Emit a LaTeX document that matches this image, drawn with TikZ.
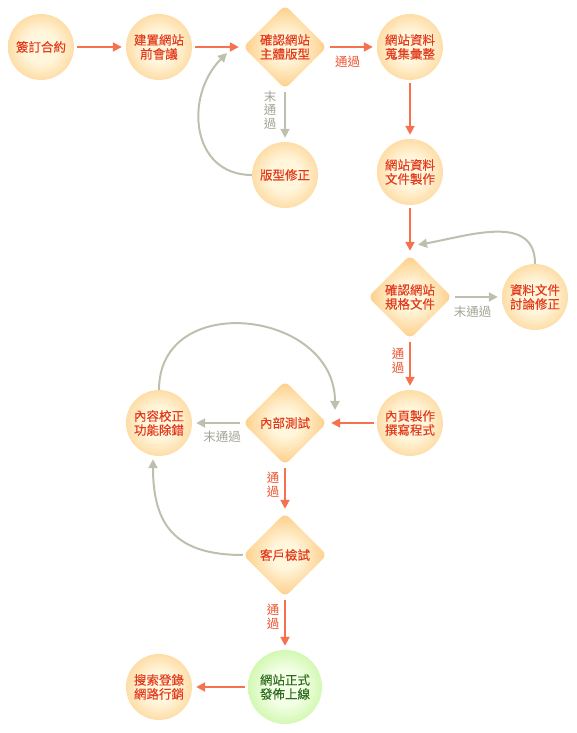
\documentclass[tikz,border=0pt]{standalone}
\usepackage{fontspec}
\newfontfamily\tcfont[BoldFont={Noto Sans CJK TC},BoldFeatures={FakeBold=0.2}]{Noto Sans CJK TC}
\usepackage{tikz}
\usetikzlibrary{positioning}
\usetikzlibrary{arrows.meta}
\usetikzlibrary{shapes.geometric}
\usetikzlibrary{calc}
\definecolor{ballRim}{HTML}{FDB95C}
\definecolor{ballCore}{HTML}{FFF6DC}
\definecolor{greenRim}{HTML}{A4EE68}
\definecolor{greenCore}{HTML}{F3FFE6}
\definecolor{stepText}{HTML}{E33A1C}
\definecolor{doneText}{HTML}{2E6B1F}
\definecolor{goLine}{HTML}{F5714F}
\definecolor{backLine}{HTML}{BEC0AE}
\definecolor{failText}{HTML}{A3A594}
\definecolor{passText}{HTML}{EA5530}
\pgfdeclareradialshading{ballOrange}{\pgfpoint{0bp}{0bp}}{color(0bp)=(ballCore); color(12bp)=(ballCore); color(44bp)=(ballRim); color(50bp)=(ballRim)}
\pgfdeclareradialshading{diaOrange}{\pgfpoint{0bp}{0bp}}{color(0bp)=(ballCore); color(8bp)=(ballCore); color(33bp)=(ballRim); color(50bp)=(ballRim)}
\pgfdeclareradialshading{ballGreen}{\pgfpoint{0bp}{0bp}}{color(0bp)=(greenCore); color(12bp)=(greenCore); color(44bp)=(greenRim); color(50bp)=(greenRim)}
\tikzstyle{ballNode}  = [circle, minimum size=66pt, inner sep=0pt, shade, shading=ballOrange, text=stepText, align=center,
                         font=\tcfont\bfseries\fontsize{12.5}{14}\selectfont]
\tikzstyle{goalNode}  = [ballNode, minimum size=74pt, shading=ballGreen, text=doneText]
\tikzstyle{diaNode}   = [diamond, minimum width=84pt, minimum height=84pt, inner sep=0pt, rounded corners=6pt, shade, shading=diaOrange,
                         text=stepText, align=center, font=\tcfont\bfseries\fontsize{12.5}{14}\selectfont]
\tikzstyle{goArrow}   = [line width=2pt, goLine, -{Triangle[length=9pt,width=9pt]}, shorten <=3pt, shorten >=4pt]
\tikzstyle{backArrow} = [line width=2pt, backLine, -{Triangle[length=9pt,width=9pt]}]
\tikzstyle{passLabel} = [inner sep=0pt, text=passText, align=center, font=\tcfont\fontsize{12.5}{13.5}\selectfont]
\tikzstyle{failLabel} = [passLabel, text=failText]

\begin{document}
\begin{tikzpicture}[x=1pt,y=1pt]
                    \useasboundingbox (0,0) rectangle (577,733);
                    \node at (41,686)     [xshift=   0pt,yshift=   0pt,ballNode] (nSign)      {簽訂合約};
                    \node at (nSign)      [xshift= 118pt,yshift=   0pt,ballNode] (nMeet)      {建置網站\\前會議};
                    \node at (nMeet)      [xshift= 126pt,yshift=   0pt,diaNode ] (nCheckMain) {確認網站\\主體版型};
                    \node at (nCheckMain) [xshift= 125pt,yshift=   0pt,ballNode] (nCollect)   {網站資料\\蒐集彙整};
                    \node at (nCheckMain) [xshift=   0pt,yshift=-128pt,ballNode] (nLayoutFix) {版型修正};
                    \node at (nCollect)   [xshift=   0pt,yshift=-125pt,ballNode] (nDocMake)   {網站資料\\文件製作};
                    \node at (nDocMake)   [xshift=   0pt,yshift=-125pt,diaNode ] (nCheckSpec) {確認網站\\規格文件};
                    \node at (nCheckSpec) [xshift= 125pt,yshift=   0pt,ballNode] (nDocFix)    {資料文件\\討論修正};
                    \node at (nCheckSpec) [xshift=   0pt,yshift=-126pt,ballNode] (nCoding)    {內頁製作\\撰寫程式};
                    \node at (nCoding)    [xshift=-125pt,yshift=   0pt,diaNode ] (nInTest)    {內部測試};
                    \node at (nInTest)    [xshift=-126pt,yshift=   0pt,ballNode] (nDebug)     {內容校正\\功能除錯};
                    \node at (nInTest)    [xshift=   0pt,yshift=-132pt,diaNode ] (nClient)    {客戶檢試};
                    \node at (nClient)    [xshift=   0pt,yshift=-132pt,goalNode] (nLaunch)    {網站正式\\發佈上線};
                    \node at (nLaunch)    [xshift=-126pt,yshift=   0pt,ballNode] (nSeo)       {搜索登錄\\網路行銷};
                    % loose ends of the loops
                    \coordinate (cMain)  at ([xshift=-58pt,yshift=-6pt]nCheckMain.center);
                    \coordinate (cSpec)  at ([xshift=  8pt,yshift=10pt]nCheckSpec.north);
                    \coordinate (cTest)  at ([xshift= 50pt,yshift=13pt]nInTest.center);
                    \coordinate (cDebug) at ([xshift= -6pt,yshift=-3pt]nDebug.south);
                    \draw[goArrow]   (nSign)      -- (nMeet)      ;
                    \draw[goArrow]   (nMeet)      -- (nCheckMain) ;
                    \draw[goArrow]   (nCheckMain) -- (nCollect)   ;
                    \draw[backArrow,shorten <=3pt,shorten >=4pt] (nCheckMain) -- (nLayoutFix) ;
                    \draw[backArrow] (nLayoutFix.west) to[out=180,in=225,looseness=1.25] (cMain) ;
                    \draw[goArrow]   (nCollect)   -- (nDocMake)   ;
                    \draw[goArrow]   (nDocMake)   -- (nCheckSpec) ;
                    \draw[backArrow,shorten <=3pt,shorten >=4pt] (nCheckSpec) -- (nDocFix) ;
                    \draw[backArrow] (nDocFix.north) to[out=90,in=10,looseness=1.1] (cSpec) ;
                    \draw[goArrow]   (nCheckSpec) -- (nCoding)    ;
                    \draw[goArrow]   (nCoding)    -- (nInTest)    ;
                    \draw[backArrow,shorten <=3pt,shorten >=4pt] (nInTest) -- (nDebug) ;
                    \draw[backArrow] (nDebug.north) to[out=90,in=90,looseness=1.45] (cTest) ;
                    \draw[goArrow]   (nInTest)    -- (nClient)    ;
                    \draw[backArrow] (nClient.west) to[out=180,in=270,looseness=1.3] (cDebug) ;
                    \draw[goArrow]   (nClient)    -- (nLaunch)    ;
                    \draw[goArrow]   (nLaunch)    -- (nSeo)       ;
                    % pass / fail labels
                    \node at ($(nCheckMain)!0.5!(nCollect)$)   [xshift=  0pt,yshift=-15pt,passLabel] (lPassMain)  {通過};
                    \node at ($(nCheckMain)!0.5!(nLayoutFix)$) [xshift=-15pt,yshift=  1pt,failLabel] (lFailMain)  {末\\通\\過};
                    \node at ($(nCheckSpec)!0.5!(nDocFix)$)    [xshift=  0pt,yshift=-15pt,failLabel] (lFailSpec)  {末通過};
                    \node at ($(nCheckSpec)!0.5!(nCoding)$)    [xshift=-12pt,yshift= -1pt,passLabel] (lPassSpec)  {通\\過};
                    \node at ($(nInTest)!0.5!(nDebug)$)        [xshift=  0pt,yshift=-14pt,failLabel] (lFailTest)  {末通過};
                    \node at ($(nInTest)!0.5!(nClient)$)       [xshift=-12pt,yshift=  4pt,passLabel] (lPassTest)  {通\\過};
                    \node at ($(nClient)!0.5!(nLaunch)$)       [xshift=-12pt,yshift=  4pt,passLabel] (lPassClient){通\\過};
                \end{tikzpicture}
\end{document}
